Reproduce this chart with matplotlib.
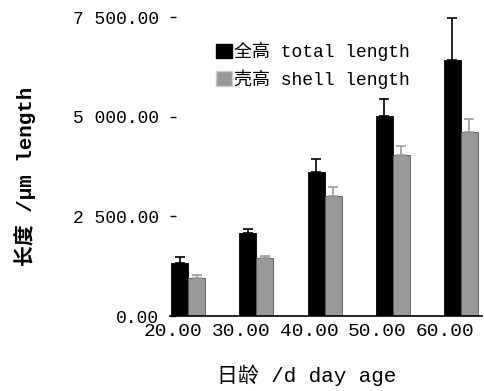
import numpy as np
import matplotlib
matplotlib.use("Agg")
import matplotlib.pyplot as plt
from matplotlib.patches import Patch

plt.rcParams['font.family'] = ['Liberation Mono', 'Noto Sans CJK SC']

# growth data: day age vs. length (um)
days = ["20.00", "30.00", "40.00", "50.00", "60.00"]
total_length = [1330, 2080, 3610, 5010, 6420]
total_err = [150, 100, 320, 430, 1050]
shell_length = [950, 1450, 3010, 4035, 4610]
shell_err = [80, 50, 220, 225, 330]
yticks = [0, 2500, 5000, 7500]
ytick_labels = ["0.00", "2 500.00", "5 000.00", "7 500.00"]

fig = plt.figure(figsize=(4.85, 3.91), dpi=100)
ax = fig.add_axes([0.3505, 0.1918, 0.643, 0.7647])

x = np.arange(len(days))
w = 0.25
ax.bar(x - w / 2, total_length, w, color='black', edgecolor='black', linewidth=0.6)
ax.bar(x + w / 2, shell_length, w, color='#999999', edgecolor='#555555', linewidth=0.6)
ax.errorbar(x - w / 2, total_length, yerr=[np.zeros(5), total_err], fmt='none',
            ecolor='black', elinewidth=1.2, capsize=3.5, capthick=1.2, clip_on=False)
ax.errorbar(x + w / 2, shell_length, yerr=[np.zeros(5), shell_err], fmt='none',
            ecolor='#9a9a9a', elinewidth=1.2, capsize=3.5, capthick=1.2, clip_on=False)

ax.set_xlim(-0.27, 4.31)
ax.set_ylim(0, 7500)
# day labels sit a little left of each pair
ax.set_xticks(x - 0.23)
ax.set_xticklabels(days, fontsize=14)
ax.set_yticks(yticks)
ax.set_yticklabels(ytick_labels, fontsize=13)
ax.tick_params(axis='x', length=0, pad=5)
ax.tick_params(axis='y', direction='in', length=4, width=1, pad=8)
for side in ['left', 'top', 'right']:
    ax.spines[side].set_visible(False)
ax.spines['bottom'].set_linewidth(1.2)

fig.text(0.633, 0.04, "日龄 /d day age", fontsize=15, ha='center', va='center')
fig.text(0.052, 0.55, "长度 /μm length", rotation=90, fontsize=15,
         fontweight='bold', ha='center', va='center')

handles = [Patch(facecolor='black', edgecolor='black'),
           Patch(facecolor='#999999', edgecolor='#cccccc')]
ax.legend(handles, ["全高 total length", "壳高 shell length"], loc='upper left',
          bbox_to_anchor=(0.125, 0.94), frameon=False, fontsize=13,
          handlelength=0.85, handleheight=0.85, handletextpad=0.15, labelspacing=0.45,
          borderaxespad=0)

fig.savefig("out.png", dpi=100)
